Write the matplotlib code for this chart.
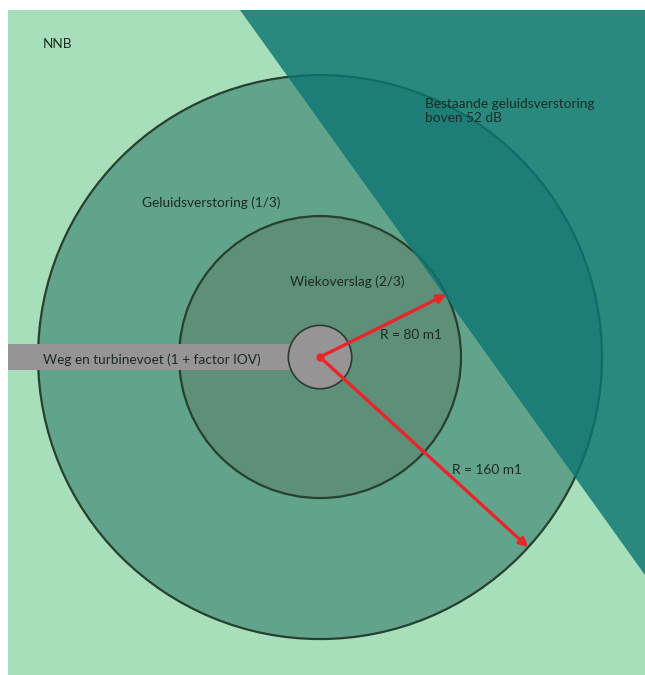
import matplotlib.pyplot as plt
import numpy as np
from matplotlib.patches import Circle, Polygon, Rectangle

# zones, in metres from the turbine foot
zone_names = ["Geluidsverstoring (1/3)", "Wiekoverslag (2/3)", "Weg en turbinevoet (1 + factor IOV)"]
zone_radius = [160, 80, 18]
zone_colors = ["#62a48b", "#5e8f78", "#979496"]

radius_labels = ["R = 80 m1", "R = 160 m1"]
radius_values = [80, 160]
radius_angles = [26.4, -42.4]

# plot extent (m)
x_min, x_max = -181.6, 184.4
y_min, y_max = -180.4, 202.6
field = [-177, x_max, -180.4, 196.9]
road_half = 7.5
noise_zone = [(-45.4, 196.9), (184.4, 196.9), (184.4, -123.7)]

text_color = "#1c2b24"
font = "Lato"


def main() -> None:
    fig = plt.figure(figsize=(6.45, 6.75), dpi=100)
    ax = fig.add_axes([0, 0, 1, 1])
    ax.set_xlim(x_min, x_max)
    ax.set_ylim(y_min, y_max)
    ax.set_aspect("auto")
    ax.axis("off")

    # NNB background
    ax.add_patch(Rectangle((field[0], field[2]), field[1] - field[0], field[3] - field[2],
                           facecolor="#a6dfba", edgecolor="none", zorder=0))

    # rings
    for r, c in zip(zone_radius[:2], zone_colors[:2]):
        ax.add_patch(Circle((0, 0), r, facecolor=c, edgecolor="#27402f", lw=1.6, zorder=1))

    # road + foot
    ax.add_patch(Rectangle((field[0], -road_half), -field[0], 2 * road_half,
                           facecolor=zone_colors[2], edgecolor="none", zorder=2))
    ax.add_patch(Circle((0, 0), zone_radius[2], facecolor=zone_colors[2],
                        edgecolor="#2b3a32", lw=1.2, zorder=2))

    # existing noise above 52 dB
    ax.add_patch(Polygon(noise_zone, closed=True, facecolor="#0d7673", alpha=0.82,
                         edgecolor="none", zorder=3))

    # radius arrows
    for r, ang in zip(radius_values, radius_angles):
        a = np.deg2rad(ang)
        ax.annotate("", xy=(r * np.cos(a), r * np.sin(a)), xytext=(0, 0),
                    arrowprops=dict(arrowstyle="-|>,head_length=0.5,head_width=0.25",
                                    color="#e8262a", lw=2.4, shrinkA=0, shrinkB=0),
                    zorder=5)
    ax.plot([0], [0], marker="o", color="#e8262a", ms=5, zorder=5)

    kw = dict(color=text_color, fontsize=9.8, family=font, va="center", ha="left", zorder=6)
    ax.text(-157.2, 177.6, "NNB", **kw)
    ax.text(59.6, 139.5, "Bestaande geluidsverstoring\nboven 52 dB", linespacing=1.25, **kw)
    ax.text(-101, 87.4, zone_names[0], **kw)
    ax.text(-17, 42.6, zone_names[1], **kw)
    ax.text(-157.2, -1.7, zone_names[2], **kw)
    ax.text(34, 12.5, radius_labels[0], **kw)
    ax.text(74.9, -64.1, radius_labels[1], **kw)

    fig.savefig("out.png", dpi=100, facecolor="white")
    plt.close(fig)


if __name__ == "__main__":
    main()
